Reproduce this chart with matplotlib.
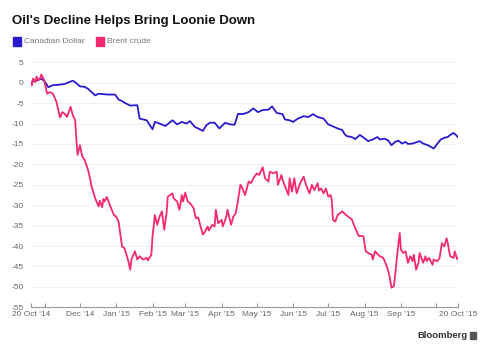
import numpy as np
import matplotlib.pyplot as plt
from matplotlib.patches import Rectangle

plt.rcParams['font.family'] = ['Liberation Sans', 'DejaVu Sans']
plt.rcParams['axes.unicode_minus'] = False

#----- DATA (days after 20 Oct 2014, % change) ----------------------
start = np.datetime64('2014-10-20')

cad_days = [0, 4, 9, 12, 15, 19, 24, 29, 36, 39, 42, 46, 49, 52, 55, 58, 66, 72,
            75, 78, 80, 85, 91, 93, 99, 104, 106, 110, 115, 121, 125, 129, 133,
            136, 140, 145, 147, 150, 153, 157, 161, 166, 170, 174, 177, 181, 186,
            190, 194, 198, 203, 206, 210, 215, 217, 221, 224, 228, 233, 237, 241,
            245, 250, 254, 258, 262, 266, 268, 270, 274, 277, 281, 284, 288, 292,
            296, 298, 302, 305, 308, 311, 314, 317, 320, 322, 326, 332, 335, 339,
            344, 347, 350, 354, 356, 358, 361, 363, 365]
cad_vals = [0.2, 0.4, 1.0, 0.3, -1.1, -0.6, -0.5, -0.3, 0.5, -0.1, -0.9, -1.0,
            -1.5, -2.3, -3.1, -2.7, -2.9, -2.9, -4.1, -4.5, -4.9, -5.6, -5.5,
            -8.8, -9.2, -11.4, -9.6, -10.0, -10.6, -9.2, -10.2, -9.6, -10.0, -9.4,
            -10.8, -11.5, -11.8, -10.4, -9.8, -9.8, -11.2, -9.8, -10.2, -10.3,
            -7.6, -7.7, -7.2, -6.3, -7.2, -6.7, -6.6, -5.8, -7.4, -7.7, -9.0,
            -9.2, -9.6, -8.8, -8.2, -8.4, -7.7, -8.4, -8.8, -10.2, -10.7, -11.2,
            -11.6, -12.6, -13.1, -13.3, -13.8, -12.8, -13.4, -14.3, -13.9, -13.3,
            -13.9, -13.7, -14.1, -15.3, -14.5, -14.2, -14.9, -14.5, -15.0, -14.9,
            -14.3, -14.9, -15.3, -16.1, -15.0, -13.9, -13.4, -13.3, -12.8, -12.3,
            -12.8, -13.4]

brent_days = [0, 1, 2, 4, 5, 6.5, 8, 9, 11, 12, 14, 16, 19, 22, 25, 27, 29, 31,
              34, 36, 38, 39, 40, 42, 44, 46, 49, 50, 52, 55, 58, 59, 61, 62, 63,
              65, 68, 71, 73, 75, 78, 80, 83, 85, 86, 89, 91, 93, 96, 99, 100,
              103, 104, 106, 108, 110, 112, 114, 116, 117, 121, 122, 125, 127,
              129, 130, 132, 134, 136, 139, 141, 143, 145, 147, 149, 151, 152,
              155, 157, 158, 160, 163, 164, 167, 168, 171, 173, 175, 177, 179,
              180, 183, 186, 188, 190, 193, 195, 198, 200, 203, 204, 207, 210,
              211, 214, 215, 220, 221, 223, 225, 227, 230, 233, 235, 238, 240,
              242, 245, 246, 248, 250, 252, 254, 256, 257, 258, 260, 262, 266,
              268, 271, 274, 277, 280, 284, 286, 288, 291, 292, 294, 296, 298,
              301, 304, 306, 308, 310, 311, 313, 315, 316, 318, 320, 322, 324,
              326, 327, 329, 331, 332, 335, 337, 338, 340, 343, 344, 347, 349,
              351, 353, 355, 356, 358, 361, 362, 364, 365]
brent_vals = [0.2, -0.7, 1.0, 0.2, 1.5, 0.6, 1.0, 2.0, 1.0, 0.0, -2.7, -2.3,
              -2.7, -4.7, -8.5, -7.2, -7.6, -8.4, -5.9, -8.0, -9.2, -14.1, -17.7,
              -15.3, -18.1, -18.9, -21.4, -22.6, -25.4, -28.3, -30.3, -28.9,
              -30.5, -28.5, -29.1, -28.0, -30.3, -32.4, -32.8, -34.0, -40.1,
              -40.5, -43.3, -45.8, -43.2, -41.3, -43.3, -42.5, -43.3, -42.9,
              -43.5, -42.1, -37.6, -32.4, -34.8, -32.8, -31.5, -36.0, -31.9,
              -27.9, -27.1, -28.3, -29.1, -31.1, -27.5, -29.1, -26.9, -29.1,
              -29.5, -30.7, -33.2, -33.0, -35.2, -37.2, -36.4, -35.2, -36.2,
              -34.8, -35.2, -31.1, -34.4, -33.6, -35.2, -32.8, -31.1, -34.8,
              -32.8, -32.0, -28.7, -25.0, -25.4, -27.5, -24.2, -24.6, -23.4,
              -22.2, -22.6, -20.7, -23.4, -24.2, -21.8, -22.2, -21.8, -25.0,
              -22.6, -23.8, -27.5, -23.4, -26.7, -23.4, -27.1, -24.6, -23.0,
              -25.0, -27.1, -25.0, -26.3, -24.6, -26.4, -25.9, -27.1, -25.9,
              -27.9, -27.5, -28.7, -33.6, -34.0, -32.4, -31.5, -32.1, -32.8,
              -33.4, -35.6, -37.5, -37.6, -41.3, -41.7, -42.1, -43.3, -41.3,
              -41.9, -42.5, -42.9, -45.0, -47.0, -50.2, -49.8, -47.4, -41.7,
              -36.8, -40.9, -41.7, -41.3, -44.1, -42.5, -43.7, -42.1, -45.8,
              -44.1, -41.7, -44.1, -42.5, -43.7, -42.9, -44.6, -43.3, -43.7,
              -42.9, -39.3, -40.1, -38.1, -39.3, -42.5, -42.9, -41.3, -43.2,
              -42.9]

tick_dates = ['2014-10-20', '2014-11-01', '2014-12-01', '2015-01-01', '2015-02-01',
              '2015-03-01', '2015-04-01', '2015-05-01', '2015-06-01', '2015-07-01',
              '2015-08-01', '2015-09-01', '2015-10-01', '2015-10-20']
tick_labels = ["20 Oct '14", "", "Dec '14", "Jan '15", "Feb '15", "Mar '15",
               "Apr '15", "May '15", "Jun '15", "Jul '15", "Aug '15", "Sep '15",
               "", "20 Oct '15"]

def to_dates(days):
    return start + (np.array(days) * 24 * 60).astype('timedelta64[m]')

BLUE = '#2B1BCF'
RED = '#F42A6C'

#----- FIGURE -------------------------------------------------------
fig = plt.figure(figsize=(4.88, 3.5), dpi=100)
ax = fig.add_axes([30.7/488, 1 - 307.3/350, (458.3 - 30.7)/488, 245/350])

ax.plot(to_dates(cad_days), cad_vals, color=BLUE, lw=1.3, solid_joinstyle='round')
ax.plot(to_dates(brent_days), brent_vals, color=RED, lw=1.3, solid_joinstyle='round')

ax.set_xlim(np.datetime64('2014-10-20'), np.datetime64('2015-10-20'))
ax.set_ylim(-55, 5)
ax.set_yticks(np.arange(-55, 6, 5))
ax.set_xticks([np.datetime64(d) for d in tick_dates])
ax.set_xticklabels(tick_labels)

for s in ['top', 'right', 'left']:
    ax.spines[s].set_visible(False)
ax.spines['bottom'].set_color('#9a9a9a')
ax.spines['bottom'].set_linewidth(0.8)

ax.grid(axis='y', color='#ececec', lw=0.6)
ax.set_axisbelow(True)
ax.tick_params(axis='y', length=0, pad=5, labelsize=6, labelcolor='#666666')
ax.tick_params(axis='x', direction='in', length=3, color='#9a9a9a', pad=3,
               labelsize=6, labelcolor='#666666')

#----- TITLE / LEGEND / SOURCE --------------------------------------
fig.text(12/488, 1 - 21/350, "Oil's Decline Helps Bring Loonie Down",
         fontsize=9.5, fontweight='bold', color='#111111', va='center')

fig.patches.append(Rectangle((13/488, 1 - 45.5/350), 8/488, 8/350,
                             transform=fig.transFigure, color=BLUE))
fig.text(24/488, 1 - 41.5/350, "Canadian Dollar", fontsize=6, color='#777777',
         va='center')
fig.patches.append(Rectangle((96/488, 1 - 45.5/350), 8/488, 8/350,
                             transform=fig.transFigure, color=RED))
fig.text(107/488, 1 - 41.5/350, "Brent crude", fontsize=6, color='#777777',
         va='center')

fig.text(467/488, 1 - 335/350, "Bloomberg", fontsize=6.8, fontweight='bold',
         color='#333333', ha='right', va='center')
fig.patches.append(Rectangle((470/488, 1 - 338.5/350), 6/488, 7/350,
                             transform=fig.transFigure, color='#555555'))

fig.savefig('out.png', dpi=100)
